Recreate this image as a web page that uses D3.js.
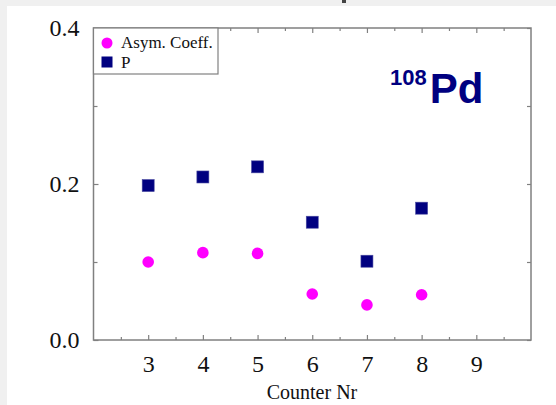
<!DOCTYPE html>
<html>
<head>
<meta charset="utf-8">
<script src="https://cdn.jsdelivr.net/npm/d3@7"></script>
<style>
    body { margin: 0; background: #fff; }
    svg { display: block; }
</style>
</head>
<body>
<svg id="chart"></svg>
<script>
// data
const counters = [3, 4, 5, 6, 7, 8];
const asymCoeff = [0.100, 0.112, 0.111, 0.059, 0.045, 0.058];
const pValues = [0.198, 0.209, 0.222, 0.151, 0.101, 0.169];
const xTicks = [3, 4, 5, 6, 7, 8, 9];
const yTicks = [0.0, 0.2, 0.4];
const seriesNames = ["Asym. Coeff.", "P"];

const width = 556, height = 405;
const svg = d3.select("#chart").attr("width", width).attr("height", height);

// slide-like background strips
svg.append("rect").attr("width", width).attr("height", height).attr("fill", "#f0f0f0");
svg.append("rect").attr("x", 7).attr("y", 6).attr("width", width - 7).attr("height", height - 6).attr("fill", "#fff");
svg.append("rect").attr("x", 342).attr("y", 0).attr("width", 4).attr("height", 3).attr("fill", "#444");

const x = d3.scaleLinear().domain([2, 10]).range([93.5, 531]);
const y = d3.scaleLinear().domain([0, 0.4]).range([340, 28]);

const serif = "'Liberation Serif', 'Times New Roman', serif";
const grey = "#808080";

const halfTicks = d3.range(2.5, 10, 1);
const minorY = [0.1, 0.3];

function styleAxis(g) {
    g.select(".domain").remove();
    g.selectAll(".tick line").attr("stroke", grey).attr("stroke-width", 1.2);
}

// bottom axis with labels
svg.append("g")
    .attr("transform", `translate(0,${y(0)})`)
    .call(d3.axisBottom(x).tickValues(xTicks).tickSize(-5).tickPadding(15).tickFormat(d3.format("d")))
    .call(styleAxis)
    .call(g => g.selectAll("text").attr("font-family", serif).attr("font-size", 24).attr("fill", "#111"));
svg.append("g")
    .attr("transform", `translate(0,${y(0)})`)
    .call(d3.axisBottom(x).tickValues(halfTicks).tickSize(-3).tickFormat(""))
    .call(styleAxis);

// top axis, ticks only
svg.append("g")
    .attr("transform", `translate(0,${y(0.4)})`)
    .call(d3.axisTop(x).tickValues(xTicks).tickSize(-5).tickFormat(""))
    .call(styleAxis);
svg.append("g")
    .attr("transform", `translate(0,${y(0.4)})`)
    .call(d3.axisTop(x).tickValues(halfTicks).tickSize(-3).tickFormat(""))
    .call(styleAxis);

// left axis with labels
svg.append("g")
    .attr("transform", `translate(${x(2)},0)`)
    .call(d3.axisLeft(y).tickValues(yTicks).tickSize(-5).tickPadding(14).tickFormat(d3.format(".1f")))
    .call(styleAxis)
    .call(g => g.selectAll("text").attr("font-family", serif).attr("font-size", 24).attr("fill", "#111"));
svg.append("g")
    .attr("transform", `translate(${x(2)},0)`)
    .call(d3.axisLeft(y).tickValues(minorY).tickSize(-4).tickFormat(""))
    .call(styleAxis);

// right axis, ticks only
svg.append("g")
    .attr("transform", `translate(${x(10)},0)`)
    .call(d3.axisRight(y).tickValues(yTicks.concat(minorY)).tickSize(-4).tickFormat(""))
    .call(styleAxis);

// frame
svg.append("rect")
    .attr("x", x(2)).attr("y", y(0.4))
    .attr("width", x(10) - x(2)).attr("height", y(0) - y(0.4))
    .attr("fill", "none").attr("stroke", grey).attr("stroke-width", 1.5);

// x axis title
svg.append("text")
    .attr("x", 312).attr("y", 399)
    .attr("text-anchor", "middle")
    .attr("font-family", serif).attr("font-size", 20).attr("fill", "#111")
    .text("Counter Nr");

// data points
svg.selectAll(".asym")
    .data(counters.map((c, i) => ({ c, v: asymCoeff[i] })))
    .join("circle")
    .attr("class", "asym")
    .attr("cx", d => x(d.c)).attr("cy", d => y(d.v))
    .attr("r", 5.8)
    .attr("fill", "#ff00ff");

const sq = 12;
svg.selectAll(".pval")
    .data(counters.map((c, i) => ({ c, v: pValues[i] })))
    .join("rect")
    .attr("class", "pval")
    .attr("x", d => x(d.c) - sq / 2).attr("y", d => y(d.v) - sq / 2)
    .attr("width", sq).attr("height", sq)
    .attr("fill", "#000080")
    .attr("stroke", "#4a4aa0").attr("stroke-width", 0.6);

// legend
const legend = svg.append("g");
legend.append("rect")
    .attr("x", x(2)).attr("y", y(0.4))
    .attr("width", 218 - x(2)).attr("height", 74 - y(0.4))
    .attr("fill", "#fff").attr("stroke", grey).attr("stroke-width", 1.2);
legend.append("circle").attr("cx", 107).attr("cy", 43).attr("r", 5.5).attr("fill", "#ff00ff");
legend.append("rect").attr("x", 101.5).attr("y", 56.5).attr("width", 11).attr("height", 11).attr("fill", "#000080");
legend.selectAll(".ltext")
    .data(seriesNames)
    .join("text")
    .attr("class", "ltext")
    .attr("x", 121).attr("y", (d, i) => 48 + i * 19.5)
    .attr("font-family", serif).attr("font-size", 17).attr("fill", "#111")
    .text(d => d);

// isotope label
const title = svg.append("text")
    .attr("x", 390).attr("y", 103)
    .attr("font-family", "'Liberation Sans', Arial, sans-serif")
    .attr("font-weight", "bold").attr("fill", "#000080");
title.append("tspan").attr("font-size", 22).attr("dy", -18).text("108");
title.append("tspan").attr("font-size", 42).attr("dx", 3).attr("dy", 18).text("Pd");
</script>
</body>
</html>
